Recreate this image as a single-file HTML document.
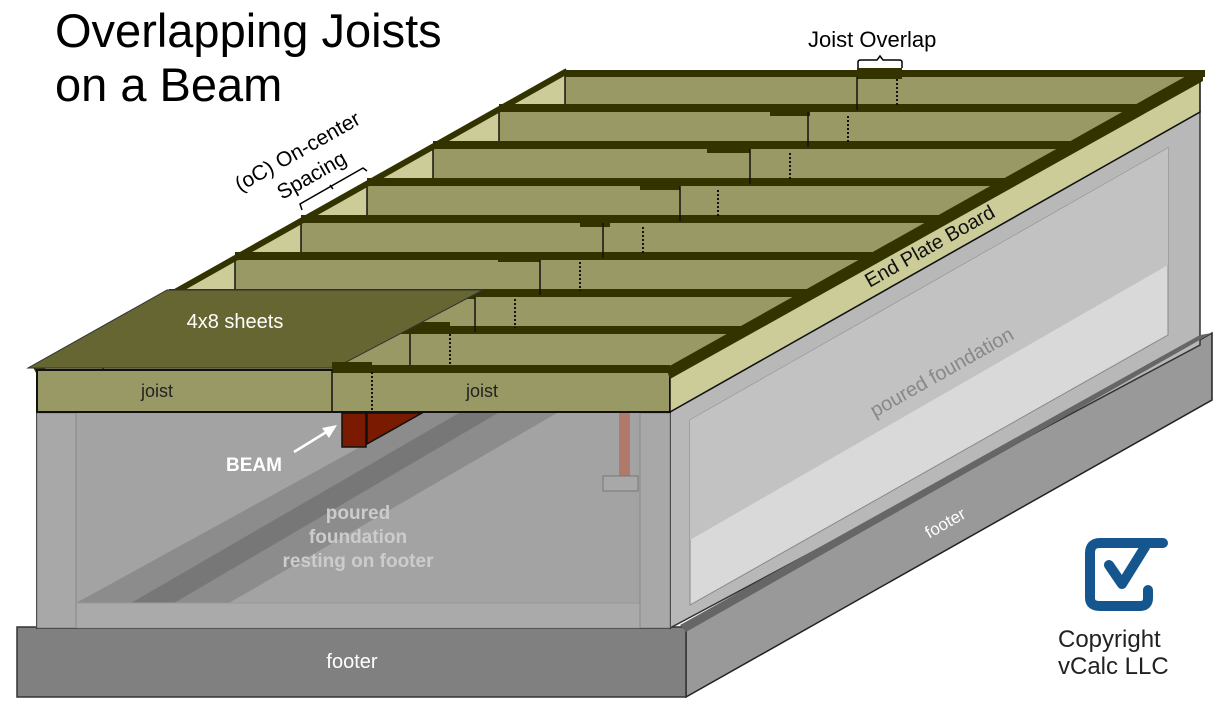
<!DOCTYPE html>
<html><head><meta charset="utf-8"><style>
html,body{margin:0;padding:0;background:#fff;}
svg{display:block;}
text{font-family:"Liberation Sans",sans-serif;}
</style></head><body>
<svg width="1222" height="719" viewBox="0 0 1222 719" xmlns="http://www.w3.org/2000/svg">
<!-- footer -->
<polygon points="686,630 1212,333 1212,400 686,697" fill="#999" stroke="#222" stroke-width="1.5"/>
<rect x="17" y="627" width="669" height="70" fill="#808080" stroke="#333" stroke-width="1.5"/>
<text x="352" y="668" font-size="20" fill="#fff" text-anchor="middle">footer</text>
<!-- right wall -->
<polygon points="670,412 1200,112 1200,345 670,628" fill="#b8b8b8" stroke="#333" stroke-width="1.5"/>
<polygon points="690,420 1168,148 1168,335 690,605" fill="#d9d9d9" stroke="#888" stroke-width="1"/>
<polygon points="690,420 1168,148 1168,265 820,465 690,540" fill="#c2c2c2"/>
<polygon points="680,625 1200,335 1212,333 686,632" fill="#666"/>
<text transform="translate(948,528) rotate(-29.5)" font-size="17" fill="#fff" text-anchor="middle">footer</text>
<text transform="translate(945,378) rotate(-29.5)" font-size="20" fill="#888" text-anchor="middle">poured foundation</text>
<!-- front wall -->
<rect x="37" y="412" width="633" height="216" fill="#a3a3a3" stroke="#111" stroke-width="2"/>
<polygon points="76,603 229,603 557,413 422,413" fill="#8c8c8c"/>
<polygon points="131,603 174,603 498,413 459,413" fill="#777"/>
<rect x="76" y="603" width="564" height="25" fill="#aaa" stroke="#999" stroke-width="1"/>
<rect x="37" y="413" width="39" height="215" fill="#a8a8a8" stroke="#888" stroke-width="1"/>
<rect x="640" y="413" width="30" height="215" fill="#a8a8a8" stroke="#888" stroke-width="1"/>
<rect x="619" y="413" width="11" height="63" fill="#b07a6a"/>
<rect x="603" y="476" width="35" height="15" fill="#a8a8a8" stroke="#777" stroke-width="1"/>
<text x="358" y="519" font-size="19" font-weight="bold" fill="#ccc" text-anchor="middle">poured</text>
<text x="358" y="543" font-size="19" font-weight="bold" fill="#ccc" text-anchor="middle">foundation</text>
<text x="358" y="567" font-size="19" font-weight="bold" fill="#ccc" text-anchor="middle">resting on footer</text>
<rect x="342" y="413" width="24" height="34" fill="#7a1a00" stroke="#111" stroke-width="1.5"/>
<polygon points="367,413 422,413 367,444" fill="#7a1a00" stroke="#111" stroke-width="1.5"/>
<line x1="294" y1="452" x2="328" y2="431" stroke="#fff" stroke-width="2.5"/>
<polygon points="337,425 322,428 329,438" fill="#fff"/>
<text x="226" y="471" font-size="19" font-weight="bold" fill="#fff">BEAM</text>
<!-- floor -->
<polygon points="37,370 565,73 1200,73 670,370" fill="#999966"/>
<g stroke="#111" stroke-width="1.5">
<polygon points="565,73 565,110 499,110" fill="#cccc99" stroke="none"/>
<polygon points="499,110 499,147 433,147" fill="#cccc99" stroke="none"/>
<polygon points="433,147 433,184 367,184" fill="#cccc99" stroke="none"/>
<polygon points="367,184 367,221 301,221" fill="#cccc99" stroke="none"/>
<polygon points="301,221 301,258 235,258" fill="#cccc99" stroke="none"/>
<polygon points="235,258 235,295 169,295" fill="#cccc99" stroke="none"/>
<polygon points="169,295 169,332 103,332" fill="#cccc99" stroke="none"/>
<line x1="565" y1="73" x2="565" y2="110"/><line x1="499" y1="110" x2="499" y2="147"/>
<line x1="433" y1="147" x2="433" y2="184"/><line x1="367" y1="184" x2="367" y2="221"/>
<line x1="301" y1="221" x2="301" y2="258"/><line x1="235" y1="258" x2="235" y2="295"/>
<line x1="169" y1="295" x2="169" y2="332"/><line x1="103" y1="332" x2="103" y2="369"/>
</g>
<g fill="#333300">
<rect x="565" y="70" width="640" height="7"/>
<rect x="499" y="104" width="640" height="8"/>
<rect x="433" y="141" width="640" height="8"/>
<rect x="367" y="178" width="640" height="8"/>
<rect x="301" y="215" width="640" height="8"/>
<rect x="235" y="252" width="640" height="8"/>
<rect x="169" y="289" width="640" height="8"/>
<rect x="103" y="326" width="640" height="8"/>
<rect x="857" y="68" width="45" height="11"/>
<rect x="770" y="104" width="40" height="12"/>
<rect x="707" y="141" width="43" height="12"/>
<rect x="640" y="178" width="40" height="12"/>
<rect x="580" y="215" width="30" height="12"/>
<rect x="498" y="252" width="42" height="10"/>
<rect x="440" y="289" width="35" height="10"/>
<rect x="410" y="322" width="40" height="10"/>
</g>
<g stroke="#111" stroke-width="1.5">
<line x1="857" y1="77" x2="857" y2="110"/><line x1="808" y1="112" x2="808" y2="147"/>
<line x1="750" y1="149" x2="750" y2="184"/><line x1="680" y1="186" x2="680" y2="221"/>
<line x1="603" y1="223" x2="603" y2="258"/><line x1="540" y1="260" x2="540" y2="295"/>
<line x1="475" y1="297" x2="475" y2="332"/><line x1="410" y1="334" x2="410" y2="369"/>
</g>
<g stroke="#111" stroke-width="2" stroke-dasharray="2,2">
<line x1="897" y1="79" x2="897" y2="106"/><line x1="848" y1="116" x2="848" y2="143"/>
<line x1="790" y1="153" x2="790" y2="180"/><line x1="718" y1="190" x2="718" y2="217"/>
<line x1="643" y1="227" x2="643" y2="254"/><line x1="580" y1="262" x2="580" y2="291"/>
<line x1="515" y1="299" x2="515" y2="328"/><line x1="450" y1="334" x2="450" y2="365"/>
</g>
<line x1="35" y1="371" x2="567" y2="71" stroke="#333300" stroke-width="6"/>
<!-- sheet -->
<polygon points="28,368 335,368 483,290 167,290" fill="#666633" stroke="#333" stroke-width="1"/>
<text x="235" y="328" font-size="20" fill="#fff" text-anchor="middle">4x8 sheets</text>
<!-- front joist -->
<rect x="37" y="370" width="633" height="42" fill="#999966" stroke="#111" stroke-width="2"/>
<rect x="332" y="365" width="338" height="8" fill="#333300"/>
<rect x="332" y="362" width="40" height="8" fill="#333300"/>
<line x1="332" y1="370" x2="332" y2="412" stroke="#111" stroke-width="1.5"/>
<line x1="372" y1="372" x2="372" y2="410" stroke="#111" stroke-width="2" stroke-dasharray="2,2"/>
<text x="157" y="397" font-size="18" fill="#222" text-anchor="middle">joist</text>
<text x="482" y="397" font-size="18" fill="#222" text-anchor="middle">joist</text>
<!-- end plate -->
<polygon points="670,377 1200,80 1200,112 670,412" fill="#cccc99" stroke="#111" stroke-width="1.5"/>
<polygon points="666,368 1197,70 1203,74 1203,81 670,379" fill="#333300"/>
<text transform="translate(933,252) rotate(-29.5)" font-size="20" fill="#111" text-anchor="middle">End Plate Board</text>
<!-- title and labels -->
<text x="55" y="47" font-size="47" fill="#000">Overlapping Joists</text>
<text x="55" y="101" font-size="47" fill="#000">on a Beam</text>
<text transform="translate(240,192) rotate(-29.5)" font-size="21" fill="#000">(oC) On-center</text>
<text transform="translate(282,200) rotate(-29.5)" font-size="21" fill="#000">Spacing</text>
<path d="M302,210 l-2,-6 L363,168 l4,3 M333,189 l-3,-4" stroke="#000" stroke-width="1.5" fill="none"/>
<text x="808" y="47" font-size="22" fill="#000">Joist Overlap</text>
<path d="M858,68 l0,-6 q0,-2 3,-2 l16,0 l3,-4 l3,4 l16,0 q3,0 3,2 l0,6" stroke="#000" stroke-width="1.5" fill="none"/>
<!-- logo -->
<path d="M1163,543 L1100,543 Q1090,543 1090,553 L1090,598 Q1090,606 1100,606 L1140,606 Q1148,606 1148,598 L1148,590" stroke="#15568f" stroke-width="10" fill="none" stroke-linecap="round" stroke-linejoin="round"/>
<path d="M1109,565 L1122,584 L1145,547" stroke="#15568f" stroke-width="10" fill="none" stroke-linecap="round" stroke-linejoin="round"/>
<text x="1058" y="647" font-size="24" fill="#222">Copyright</text>
<text x="1058" y="674" font-size="24" fill="#222">vCalc LLC</text>
</svg>
</body></html>
